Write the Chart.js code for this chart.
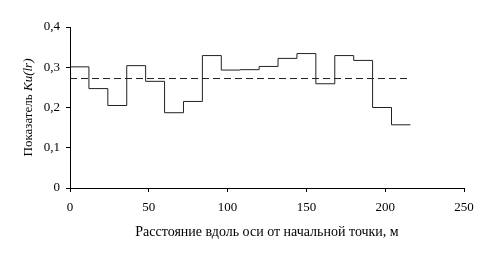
<!DOCTYPE html>
<html>
<head>
<meta charset="utf-8">
<script src="https://cdn.jsdelivr.net/npm/chart.js@4/dist/chart.umd.min.js"></script>
<style>
  html, body { margin: 0; padding: 0; background: #fff; }
  #wrap { width: 492px; height: 261px; }
</style>
</head>
<body>
<div id="wrap"><canvas id="c" width="492" height="261"></canvas></div>
<script>
// Segment boundaries along the axis (m)
const segmentEdges = [0, 12, 24, 36, 48, 60, 72, 84, 96, 108, 120, 132, 144, 156, 168, 180, 192, 204, 216];
// Ku(lr) value for each 12 m segment
const segmentValues = [0.301, 0.247, 0.205, 0.304, 0.265, 0.187, 0.215, 0.329, 0.293, 0.294, 0.302, 0.322, 0.334, 0.259, 0.329, 0.317, 0.200, 0.157];
// Mean level (dashed line) and its extent
const meanValue = 0.272;
const meanRange = [0, 214];
// Axis ticks
const xTicks = [0, 50, 100, 150, 200, 250];
const yTicks = [0, 0.1, 0.2, 0.3, 0.4];

const xTitle = 'Расстояние вдоль оси от начальной точки, м';
const yTitleNormal = 'Показатель ';
const yTitleItalic = 'Ku(lr)';

const FONT = 'Liberation Serif, Times New Roman, serif';

const stepPoints = segmentValues.map((v, i) => ({ x: segmentEdges[i], y: v }));
stepPoints.push({ x: segmentEdges[segmentEdges.length - 1], y: segmentValues[segmentValues.length - 1] });

const meanPoints = meanRange.map(x => ({ x: x, y: meanValue }));

const yTitlePlugin = {
  id: 'yTitle',
  afterDraw(chart) {
    const ctx = chart.ctx;
    const area = chart.chartArea;
    const cy = (area.top + area.bottom) / 2;
    ctx.save();
    ctx.translate(29, cy);
    ctx.rotate(-Math.PI / 2);
    ctx.fillStyle = '#000';
    ctx.textBaseline = 'middle';
    ctx.textAlign = 'left';
    const fN = '13px ' + FONT;
    const fI = 'italic 13px ' + FONT;
    ctx.font = fN;
    const wN = ctx.measureText(yTitleNormal).width;
    ctx.font = fI;
    const wI = ctx.measureText(yTitleItalic).width;
    const start = -(wN + wI) / 2;
    ctx.font = fN;
    ctx.fillText(yTitleNormal, start, 0);
    ctx.font = fI;
    ctx.fillText(yTitleItalic, start + wN, 0);
    ctx.restore();
  }
};

new Chart(document.getElementById('c'), {
  type: 'line',
  data: {
    datasets: [
      {
        data: stepPoints,
        stepped: 'before',
        borderColor: '#222',
        borderWidth: 1,
        pointRadius: 0,
        fill: false
      },
      {
        data: meanPoints,
        borderColor: '#222',
        borderWidth: 1,
        borderDash: [7, 4],
        pointRadius: 0,
        fill: false
      }
    ]
  },
  options: {
    responsive: false,
    animation: false,
    devicePixelRatio: 1,
    layout: { padding: { top: 27, right: 28, left: 0, bottom: 0 } },
    plugins: { legend: { display: false }, tooltip: { enabled: false } },
    scales: {
      x: {
        type: 'linear',
        min: xTicks[0],
        max: xTicks[xTicks.length - 1],
        afterBuildTicks(scale) { scale.ticks = xTicks.map(v => ({ value: v })); },
        afterFit(scale) { scale.height = 73; },
        ticks: {
          color: '#000',
          font: { family: FONT, size: 13 },
          padding: 8,
          maxRotation: 0,
          callback: v => String(v)
        },
        grid: { drawOnChartArea: false, drawTicks: true, tickLength: 4, color: '#000' },
        border: { display: true, color: '#000', width: 1 },
        title: {
          display: true,
          text: xTitle,
          color: '#000',
          font: { family: FONT, size: 14 },
          padding: { top: 4, bottom: 20 }
        }
      },
      y: {
        min: yTicks[0],
        max: yTicks[yTicks.length - 1],
        afterBuildTicks(scale) { scale.ticks = yTicks.map(v => ({ value: v })); },
        afterFit(scale) { scale.width = 70; },
        ticks: {
          color: '#000',
          font: { family: FONT, size: 13 },
          padding: 6,
          callback: v => v === 0 ? '0' : v.toFixed(1).replace('.', ',')
        },
        grid: { drawOnChartArea: false, drawTicks: true, tickLength: 4, color: '#000' },
        border: { display: true, color: '#000', width: 1 }
      }
    }
  },
  plugins: [yTitlePlugin]
});
</script>
</body>
</html>
